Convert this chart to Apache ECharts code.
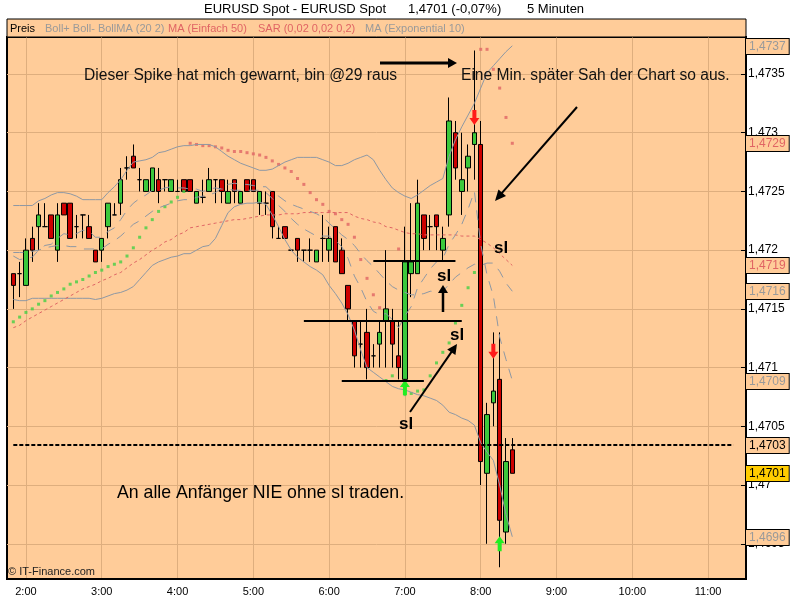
<!DOCTYPE html>
<html><head><meta charset="utf-8">
<script src="https://cdn.jsdelivr.net/npm/echarts@6/dist/echarts.min.js"></script>
<style>html,body{margin:0;padding:0;background:#fff}#c{width:800px;height:600px}</style>
</head><body><div id="c"></div>
<script>
// ---- data (EURUSD 5-minute candles, first candle 1:50) ----
const firstCandle = '1:50';
const opens = [1.4718,1.4718,1.4717,1.4721,1.4722,1.4722,1.4723,1.4720,1.4724,1.4724,
 1.4722,1.4723,1.4722,1.4720,1.4720,1.4722,1.4723,1.4724,1.4727,1.4728,
 1.4726,1.4725,1.4725,1.4726,1.4726,1.4725,1.4725,1.4726,1.4726,1.4724,
 1.47245,1.4725,1.4726,1.4726,1.4724,1.4726,1.4724,1.4726,1.4726,1.4724,
 1.4724,1.4725,1.4721,1.4722,1.4720,1.4721,1.4720,1.4720,1.4719,1.4721,
 1.4720,1.4722,1.4720,1.4717,1.4714,1.4712,1.4713,1.4711,1.4712,1.4714,
 1.4714,1.4711,1.4709,1.4718,1.4718,1.4723,1.4722,1.4723,1.4720,1.4723,
 1.4730,1.4725,1.4727,1.4729,1.4729,1.4701,1.4707,1.4709,1.4696,1.4703];
const closes = [1.4717,1.4718,1.4720,1.4720,1.4723,1.4722,1.4721,1.4723,1.4723,1.4721,
 1.4722,1.4723,1.4721,1.4719,1.4721,1.4724,1.4723,1.4726,1.4727,1.4727,
 1.4726,1.4726,1.4727,1.4725,1.4726,1.4726,1.4725,1.4725,1.4725,1.4725,
 1.47245,1.4726,1.4726,1.4725,1.4725,1.4725,1.4725,1.4725,1.4725,1.4725,
 1.4724,1.4722,1.4721,1.4721,1.4720,1.4720,1.4720,1.4720,1.4720,1.4721,
 1.4721,1.4719,1.4718,1.4715,1.4711,1.4712,1.4710,1.4711,1.4713,1.4715,
 1.4712,1.4710,1.4719,1.4719,1.4724,1.4721,1.4722,1.4722,1.4721,1.4731,
 1.4727,1.4726,1.4728,1.4730,1.4702,1.4706,1.4708,1.4697,1.4702,1.4701];
const lows = [1.4715,1.4716,1.4717,1.4719,1.4720,1.4722,1.4721,1.4719,1.4723,1.4721,
 1.4721,1.4721,1.4721,1.4719,1.4719,1.4721,1.4723,1.4723,1.4726,1.4727,
 1.4725,1.4725,1.4725,1.4724,1.4725,1.4725,1.4725,1.4725,1.4725,1.4724,
 1.4724,1.4725,1.4724,1.4724,1.4724,1.4724,1.4724,1.4725,1.4725,1.4723,
 1.4723,1.4721,1.4721,1.4721,1.4720,1.4719,1.4719,1.4719,1.4719,1.4719,
 1.4719,1.4719,1.4718,1.4714,1.4710,1.4710,1.4709,1.4710,1.4710,1.4710,
 1.4710,1.4709,1.47077,1.4716,1.4718,1.4720,1.4720,1.4720,1.4719,1.4722,
 1.4726,1.4723,1.4725,1.4726,1.4700,1.4695,1.4705,1.4693,1.4695,1.4701];
const highs = [1.4718,1.4719,1.4721,1.4722,1.4724,1.4724,1.4723,1.4724,1.4724,1.4724,
 1.4723,1.4723,1.4723,1.4720,1.4721,1.4724,1.4724,1.4727,1.4728,1.4729,
 1.4727,1.4726,1.4727,1.4727,1.4726,1.4726,1.4726,1.4726,1.4726,1.4725,
 1.4726,1.4727,1.4726,1.4726,1.4726,1.4726,1.4725,1.4726,1.4726,1.4725,
 1.4725,1.4725,1.4722,1.4722,1.4720,1.4721,1.4720,1.4721,1.4720,1.4723,
 1.4722,1.4722,1.4721,1.4717,1.4714,1.4714,1.4715,1.4712,1.4714,1.4720,
 1.4715,1.4714,1.4722,1.4724,1.4726,1.4723,1.4723,1.4723,1.4722,1.4733,
 1.4731,1.4730,1.4729,1.4737,1.4731,1.4707,1.4713,1.4713,1.4704,1.4704];
const bollUpper = [1.47238,1.47238,1.47238,1.47238,1.47242,1.47244,1.47247,1.47249,1.47249,1.47248,
 1.47246,1.47243,1.47243,1.47243,1.47243,1.47249,1.47254,1.47260,1.47268,1.47275,
 1.47276,1.47277,1.47279,1.47283,1.47284,1.47286,1.47288,1.47289,1.47289,1.47290,
 1.47290,1.47290,1.47288,1.47284,1.47280,1.47277,1.47274,1.47272,1.47270,1.47268,
 1.47268,1.47269,1.47272,1.47275,1.47277,1.47279,1.47279,1.47279,1.47279,1.47277,
 1.47275,1.47272,1.47272,1.47274,1.47277,1.47279,1.47281,1.47277,1.47268,1.47260,
 1.47253,1.47249,1.47246,1.47244,1.47247,1.47251,1.47255,1.47258,1.47261,1.47280,
 1.47294,1.47305,1.47315,1.47325,1.47338,1.47351,1.47357,1.47363,1.47369,1.47374];
const bollLower = [1.47158,1.47157,1.47157,1.47159,1.47159,1.47159,1.47159,1.47159,1.47159,1.47159,
 1.47159,1.47159,1.47159,1.47158,1.47159,1.47161,1.47163,1.47164,1.47166,1.47169,
 1.47175,1.47181,1.47187,1.47190,1.47192,1.47194,1.47195,1.47197,1.47197,1.47200,
 1.47203,1.47204,1.47210,1.47221,1.47232,1.47237,1.47239,1.47240,1.47240,1.47241,
 1.47239,1.47230,1.47220,1.47209,1.47200,1.47194,1.47190,1.47186,1.47183,1.47179,
 1.47170,1.47163,1.47155,1.47145,1.47132,1.47115,1.47100,1.47096,1.47092,1.47088,
 1.47084,1.47082,1.47081,1.47079,1.47077,1.47076,1.47074,1.47072,1.47068,1.47062,
 1.47060,1.47057,1.47055,1.47051,1.47036,1.47028,1.47021,1.47000,1.46975,1.46956];
const bollMA = [1.47198,1.47198,1.47198,1.47199,1.47200,1.47202,1.47203,1.47204,1.47204,1.47203,
 1.47203,1.47201,1.47201,1.47201,1.47201,1.47205,1.47208,1.47212,1.47217,1.47222,
 1.47225,1.47229,1.47233,1.47236,1.47238,1.47240,1.47242,1.47243,1.47243,1.47245,
 1.47246,1.47247,1.47249,1.47253,1.47256,1.47257,1.47256,1.47256,1.47255,1.47254,
 1.47254,1.47249,1.47246,1.47242,1.47239,1.47237,1.47235,1.47233,1.47231,1.47228,
 1.47223,1.47218,1.47213,1.47209,1.47204,1.47197,1.47191,1.47186,1.47180,1.47174,
 1.47169,1.47166,1.47164,1.47162,1.47162,1.47163,1.47165,1.47165,1.47165,1.47171,
 1.47177,1.47181,1.47185,1.47188,1.47187,1.47189,1.47189,1.47182,1.47172,1.47165];
const sma50 = [1.47134,1.47136,1.47140,1.47143,1.47146,1.47149,1.47152,1.47155,1.47158,1.47161,
 1.47164,1.47167,1.47169,1.47171,1.47174,1.47176,1.47179,1.47181,1.47185,1.47189,
 1.47192,1.47196,1.47200,1.47203,1.47207,1.47209,1.47213,1.47215,1.47219,1.47220,
 1.47221,1.47222,1.47223,1.47224,1.47225,1.47226,1.47226,1.47227,1.47228,1.47229,
 1.47230,1.47230,1.47230,1.47231,1.47231,1.47231,1.47232,1.47232,1.47232,1.47232,
 1.47232,1.47232,1.47232,1.47232,1.47229,1.47227,1.47226,1.47224,1.47223,1.47220,
 1.47219,1.47217,1.47215,1.47214,1.47214,1.47213,1.47213,1.47213,1.47213,1.47213,
 1.47213,1.47212,1.47212,1.47212,1.47209,1.47206,1.47202,1.47197,1.47192,1.47187];
const sar = [1.47139,1.47143,1.47147,1.47150,1.47154,1.47157,1.47161,1.47164,1.47167,1.47171,
 1.47173,1.47175,1.47178,1.47181,1.47183,1.47186,1.47188,1.47190,1.47195,1.47202,
 1.47211,1.47219,1.47226,1.47233,1.47237,1.47241,1.47245,1.47250,1.47291,1.47290,
 1.47289,1.47289,1.47288,1.47287,1.47285,1.47284,1.47284,1.47283,1.47282,1.47281,
 1.47279,1.47276,1.47273,1.47270,1.47267,1.47261,1.47256,1.47249,1.47243,1.47239,
 1.47233,1.47231,1.47226,1.47222,1.47211,1.47192,1.47176,1.47162,1.47151,1.47089,
 1.47093,1.47201,1.47077,1.47078,1.47080,1.47081,1.47093,1.47104,1.47113,1.47121,
 1.47138,1.47153,1.47168,1.47181,1.47371,1.47371,1.47354,1.47338,1.47313,1.47291];
const ema10 = [1.47195,1.47192,1.47193,1.47194,1.47200,1.47204,1.47205,1.47210,1.47214,1.47213,
 1.47214,1.47217,1.47216,1.47211,1.47211,1.47216,1.47219,1.47226,1.47234,1.47240,
 1.47244,1.47247,1.47251,1.47251,1.47253,1.47254,1.47253,1.47253,1.47252,1.47252,
 1.47250,1.47252,1.47253,1.47252,1.47252,1.47251,1.47251,1.47251,1.47251,1.47251,
 1.47249,1.47244,1.47238,1.47233,1.47227,1.47222,1.47218,1.47215,1.47212,1.47212,
 1.47212,1.47208,1.47203,1.47193,1.47178,1.47168,1.47156,1.47148,1.47145,1.47146,
 1.47141,1.47134,1.47144,1.47152,1.47168,1.47176,1.47184,1.47190,1.47193,1.47205,
 1.47213,1.47222,1.47235,1.47250,1.47205,1.47179,1.47161,1.47126,1.47107,1.47089];
const refLine = 1.47034;            // user-drawn dashed line
const yTicks = [1.4695,1.4700,1.4705,1.4710,1.4715,1.4720,1.4725,1.4730,1.4735];
const yTickLabels = ['1,4695','1,47','1,4705','1,471','1,4715','1,472','1,4725','1,473','1,4735'];
// signal arrows: [candle index, price, type]
const signalArrows = [[73,1.47313,'down'],[76,1.47114,'down'],[62,1.47083,'up'],[77,1.46950,'up']];
// stop-loss levels drawn by the author: [fromCandle, toCandle, price]
const slLevels = [[57.1,70.0,1.47191],[46.0,70.9,1.47140],[52.1,64.9,1.47089]];

// ---- categories: 5-min slots 1:45 .. 11:30 ----
const cats = [];
for (let m = 105; m <= 690; m += 5) cats.push(Math.floor(m/60) + ':' + String(m%60).padStart(2,'0'));
const off = cats.indexOf(firstCandle);
const xy = arr => arr.map((v,i)=>[i+off, v]);

const PEACH = '#FFCC99', GRID = '#DEAE7E', BGREY = '#8E98A4', MRED = '#E06464';
const FONT = '"Liberation Sans", Arial, sans-serif';

const chart = echarts.init(document.getElementById('c'));

// last-value price tags on the right axis
const tagDefs = [
  [bollUpper[79], '1,4737', '#9A9A9A', PEACH],
  [sar[79], '1,4729', MRED, PEACH],
  [sma50[79], '1,4719', MRED, PEACH],
  [bollMA[79], '1,4716', '#9A9A9A', PEACH],
  [ema10[79], '1,4709', '#9A9A9A', PEACH],
  [refLine, '1,4703', '#000', PEACH],
  [closes[79], '1,4701', '#000', '#FFCC00'],
  [bollLower[79], '1,4696', '#9A9A9A', PEACH]
];

const UP = 'path://M5,0L10,7L7,7L7,15L3,15L3,7L0,7Z';
const DOWN = 'path://M3,0L7,0L7,8L10,8L5,15L0,8L3,8Z';

const option = {
  animation: false,
  backgroundColor: '#fff',
  grid: {left: 7, right: 54, top: 37, bottom: 21, show: true, backgroundColor: PEACH, borderColor: '#000', borderWidth: 2},
  xAxis: {
    type: 'category', data: cats, boundaryGap: false,
    axisLine: {show: true, lineStyle: {color: '#000', width: 2}},
    axisTick: {show: false},
    axisLabel: {interval: (i, v) => v.endsWith(':00'), color: '#000', fontSize: 11, fontFamily: FONT, margin: 7},
    splitLine: {show: true, interval: (i, v) => v.endsWith(':00'), lineStyle: {color: GRID, width: 1}}
  },
  yAxis: {
    type: 'value', position: 'right', min: 1.4692, max: 1.473815, scale: true,
    axisLine: {show: true, lineStyle: {color: '#000', width: 2}},
    axisTick: {show: true, inside: true, length: 5, lineStyle: {color: '#000'}, customValues: yTicks},
    axisLabel: {customValues: yTicks, color: '#000', fontSize: 12, fontFamily: FONT, margin: 2,
      formatter: v => { const i = yTicks.findIndex(t => Math.abs(t - v) < 1e-7); return i >= 0 ? yTickLabels[i] : ''; }},
    splitLine: {show: true, lineStyle: {color: GRID, width: 1}}
  },
  series: [
    {
      name: 'Preis', type: 'candlestick', barWidth: 5,
      data: opens.map((o,i)=>[i+off, o, closes[i], lows[i], highs[i]]),
      encode: {x: 0, y: [1,2,3,4]},
      itemStyle: {color: '#3CC83C', color0: '#CC0000', borderColor: '#000', borderColor0: '#000', borderColorDoji: '#000', borderWidth: 1},
      markLine: {
        silent: true, symbol: ['none','none'], animation: false,
        data: [[
          {coord: [off, refLine], lineStyle: {color: '#000', width: 2, type: [4,2]}, label: {show: false}},
          {coord: [115, refLine]}
        ]]
      },
      markPoint: {
        silent: true, animation: false, label: {show: false},
        data: signalArrows.map(a => ({coord: [a[0]+off, a[1]], symbol: a[2]==='up' ? UP : DOWN,
          symbolSize: [10,15], itemStyle: {color: a[2]==='up' ? '#22EE22' : '#FF1A1A'}}))
      }
    },
    {name: 'Boll+', type: 'line', data: xy(bollUpper), symbol: 'none', lineStyle: {color: BGREY, width: 1}},
    {name: 'Boll-', type: 'line', data: xy(bollLower), symbol: 'none', lineStyle: {color: BGREY, width: 1}},
    {name: 'BollMA', type: 'line', data: xy(bollMA), symbol: 'none', lineStyle: {color: BGREY, width: 1, type: [10,8]}},
    {name: 'MA50', type: 'line', data: xy(sma50), symbol: 'none', lineStyle: {color: MRED, width: 1, type: [3,3]}},
    {name: 'EMA10', type: 'line', data: xy(ema10), symbol: 'none', lineStyle: {color: BGREY, width: 1, type: [10,8]}},
    {name: 'SAR', type: 'scatter', data: xy(sar), symbol: 'rect', symbolSize: 3,
      itemStyle: {color: p => (p.value[1] > highs[p.dataIndex]) ? MRED : '#44D044'}}
  ]
};
chart.setOption(option);

// ---- annotations (author's drawings) ----
const g = [];
function txt(x, y, s, font, fill, align, extra) {
  g.push({type: 'text', x: x, y: y, silent: true, z: 100,
    style: Object.assign({text: s, font: font, fill: fill || '#000', textAlign: align || 'left', textVerticalAlign: 'middle'}, extra || {})});
}
function seg(x1, y1, x2, y2, w) {
  g.push({type: 'line', silent: true, z: 100, shape: {x1, y1, x2, y2}, style: {stroke: '#000', lineWidth: w}});
}
function arrow(x1, y1, x2, y2, w, hl, hw) {
  const dx = x2-x1, dy = y2-y1, L = Math.hypot(dx,dy), ux = dx/L, uy = dy/L;
  const bx = x2-ux*hl, by = y2-uy*hl;
  seg(x1, y1, bx+ux, by+uy, w);
  g.push({type: 'polygon', silent: true, z: 100, shape: {points: [[x2,y2],[bx-uy*hw, by+ux*hw],[bx+uy*hw, by-ux*hw]]}, style: {fill: '#000'}});
}
// legend bar
g.push({type: 'rect', silent: true, shape: {x: 7, y: 19, width: 739, height: 18}, style: {fill: PEACH, stroke: '#000', lineWidth: 1}});
txt(10, 28.5, 'Preis', '11px ' + FONT, '#000');
txt(45, 28.5, 'Boll+ Boll- BollMA (20 2)', '11px ' + FONT, '#9A9A9A');
txt(168, 28.5, 'MA (Einfach 50)', '11px ' + FONT, MRED);
txt(258, 28.5, 'SAR (0,02 0,02 0,2)', '11px ' + FONT, MRED);
txt(365, 28.5, 'MA (Exponential 10)', '11px ' + FONT, '#9A9A9A');
// title
txt(204, 9.5, 'EURUSD Spot - EURUSD Spot', '13px ' + FONT, '#000');
txt(408, 9.5, '1,4701 (-0,07%)', '13px ' + FONT, '#000');
txt(527, 9.5, '5 Minuten', '13px ' + FONT, '#000');
txt(8, 572, '\u00A9 IT-Finance.com', '11px ' + FONT, '#222');
// notes
txt(84, 76, 'Dieser Spike hat mich gewarnt, bin @29 raus', '15.6px ' + FONT, '#111');
txt(461, 76, 'Eine Min. sp\u00E4ter Sah der Chart so aus.', '15.6px ' + FONT, '#111');
txt(117, 493, 'An alle Anf\u00E4nger NIE ohne sl traden.', '17.7px ' + FONT, '#000');
arrow(380, 63, 457, 63, 3, 9, 5);
arrow(577, 107, 495, 201, 2, 11, 5);
arrow(443, 312, 443, 285, 2.5, 8, 5);
arrow(410, 412, 457, 344, 2, 10, 5);
const sl = 'bold 17px ' + FONT;
txt(494, 248, 'sl', sl); txt(437, 276, 'sl', sl); txt(450, 335, 'sl', sl); txt(399, 424, 'sl', sl);
slLevels.forEach(l => {
  const p1 = chart.convertToPixel({xAxisIndex: 0, yAxisIndex: 0}, [l[0]+off, l[2]]);
  const p2 = chart.convertToPixel({xAxisIndex: 0, yAxisIndex: 0}, [l[1]+off, l[2]]);
  seg(p1[0], Math.round(p1[1]), p2[0], Math.round(p2[1]), 2);
});
// price tags, placed at their values through the y axis
tagDefs.forEach(t => {
  const y = chart.convertToPixel({yAxisIndex: 0}, t[0]);
  g.push({type: 'text', x: 746, y: Math.round(y) + 0.5, silent: true, z: 110,
    style: {text: t[1], font: '12px ' + FONT, fill: t[2], textAlign: 'left', textVerticalAlign: 'middle',
      backgroundColor: t[3], borderColor: '#000', borderWidth: 1, padding: [2, 3, 1, 3]}});
});
chart.setOption({graphic: {elements: g}});
</script></body></html>
